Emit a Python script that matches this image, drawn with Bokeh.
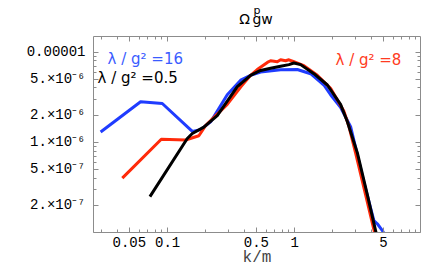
from bokeh.plotting import figure
from bokeh.models import Range1d, FixedTicker, LogAxis, Label
from bokeh.embed import file_html
from bokeh.resources import INLINE

# lambda/g^2 = 16 (blue)
k_16 = [0.0297, 0.0613, 0.0908, 0.1565, 0.182, 0.218, 0.295, 0.376, 0.450, 0.540,
        0.776, 1.05, 1.337, 1.70, 1.92, 2.30, 2.76, 3.51, 4.21, 4.48, 4.91, 5.21]
omega_16 = [1.30e-6, 2.81e-6, 2.69e-6, 1.32e-6, 1.38e-6, 1.68e-6, 3.36e-6, 4.88e-6, 5.52e-6, 5.99e-6,
            6.35e-6, 6.40e-6, 5.75e-6, 4.31e-6, 3.36e-6, 2.44e-6, 1.49e-6, 3.62e-7, 1.35e-7, 1.25e-7, 1.05e-7, 9.0e-8]

# lambda/g^2 = 8 (red)
k_8 = [0.0440, 0.0892, 0.1386, 0.1763, 0.199, 0.295, 0.376, 0.450, 0.508, 0.610, 0.647,
       0.731, 0.776, 0.849, 0.902, 0.987, 1.184, 1.509, 1.92, 2.44, 2.68, 3.02, 3.62, 4.26, 4.42]
omega_8 = [4.00e-7, 1.08e-6, 1.06e-6, 1.18e-6, 1.53e-6, 2.63e-6, 4.1e-6, 5.52e-6, 6.40e-6, 7.67e-6, 8.0e-6,
           7.8e-6, 8.2e-6, 8.0e-6, 8.2e-6, 7.8e-6, 7.07e-6, 5.52e-6, 3.97e-6, 2.22e-6, 1.49e-6, 7.62e-7, 2.63e-7, 1.0e-7, 8.2e-8]

# lambda/g^2 = 0.5 (black)
k_05 = [0.0726, 0.1429, 0.1565, 0.193, 0.246, 0.354, 0.450, 0.540, 0.647, 0.776, 0.902,
        0.987, 1.115, 1.419, 1.81, 2.30, 2.60, 3.12, 3.74, 4.34, 4.50]
omega_05 = [2.50e-7, 1.10e-6, 1.25e-6, 1.47e-6, 1.97e-6, 4.13e-6, 5.52e-6, 6.25e-6, 6.61e-6, 6.95e-6, 7.25e-6,
            7.56e-6, 7.25e-6, 5.75e-6, 4.31e-6, 2.63e-6, 1.70e-6, 7.62e-7, 2.61e-7, 1.05e-7, 8.5e-8]

x_ticks = [0.05, 0.1, 0.5, 1, 5]
x_tick_labels = ["0.05", "0.1", "0.5", "1", "5"]
x_minor = [0.03, 0.04, 0.06, 0.07, 0.08, 0.09, 0.2, 0.3, 0.4, 0.6, 0.7, 0.8, 0.9,
           2, 3, 4, 6, 7, 8, 9]
y_ticks = [2e-7, 5e-7, 1e-6, 2e-6, 5e-6, 1e-5]
y_tick_labels = ["2.×10⁻⁷", "5.×10⁻⁷", "1.×10⁻⁶", "2.×10⁻⁶", "5.×10⁻⁶", "0.00001"]
y_minor = [1e-7, 3e-7, 4e-7, 6e-7, 7e-7, 8e-7, 9e-7,
           3e-6, 4e-6, 6e-6, 7e-6, 8e-6, 9e-6]

# title pieces: Omega with superscript p and subscript gw
title_main = "Ω"
title_sub = "gw"
title_sup = "p"

BLUE = "#1f3cff"
RED = "#ff2a0a"
AX = "#8c8c8c"
MONO = "Liberation Mono"
LAB = "DejaVu Sans"

p = figure(width=430, height=270, x_axis_type="log", y_axis_type="log",
           x_range=Range1d(0.0261, 9.8), y_range=Range1d(1e-7, 1.486e-5),
           output_backend="svg", toolbar_location=None,
           min_border_left=93, min_border_right=10, min_border_top=30, min_border_bottom=38)
p.outline_line_color = None
p.xgrid.visible = False
p.ygrid.visible = False
p.background_fill_color = "white"
p.border_fill_color = "white"

def style(ax, ticks, minor, labels, show):
    ax.ticker = FixedTicker(ticks=ticks, minor_ticks=minor)
    ax.axis_line_color = AX
    ax.major_tick_line_color = AX
    ax.minor_tick_line_color = AX
    ax.major_tick_in = 5
    ax.major_tick_out = 0
    ax.minor_tick_in = 3
    ax.minor_tick_out = 0
    if show:
        ax.major_label_overrides = {t: l for t, l in zip(ticks, labels)}
        ax.major_label_text_font = MONO
        ax.major_label_text_font_size = "14px"
        ax.major_label_text_color = "black"
    else:
        ax.major_label_overrides = {t: "" for t in ticks}
        ax.major_label_text_font_size = "0px"
        ax.major_label_standoff = 0

xb = p.below[0]
style(xb, x_ticks, x_minor, x_tick_labels, True)
xb.major_label_standoff = 4
xb.axis_label = "k/m"
xb.axis_label_text_font = MONO
xb.axis_label_text_font_size = "16px"
xb.axis_label_text_font_style = "normal"
xb.axis_label_standoff = -1
yl = p.left[0]
style(yl, y_ticks, y_minor, y_tick_labels, True)
yl.major_label_standoff = 8

xt = LogAxis()
style(xt, x_ticks, x_minor, x_tick_labels, False)
p.add_layout(xt, "above")
yr = LogAxis()
style(yr, y_ticks, y_minor, y_tick_labels, False)
p.add_layout(yr, "right")

# title drawn as a bare axis above the frame (labels outside the frame stay visible)
k_title_main = 0.404
k_title_sub = 0.560
tt = LogAxis(ticker=FixedTicker(ticks=[k_title_main, k_title_sub], minor_ticks=[]))
tt.major_label_overrides = {k_title_main: title_main, k_title_sub: title_sub}
tt.axis_line_color = None
tt.major_tick_line_color = None
tt.minor_tick_line_color = None
tt.major_tick_in = 0
tt.major_tick_out = 0
tt.minor_tick_in = 0
tt.minor_tick_out = 0
tt.major_label_standoff = 10
tt.major_label_text_font = LAB
tt.major_label_text_font_size = "14px"
tt.major_label_text_color = "black"
tt.axis_label = title_sup
tt.axis_label_text_font = LAB
tt.axis_label_text_font_size = "11px"
tt.axis_label_text_font_style = "normal"
tt.axis_label_text_color = "black"
tt.axis_label_standoff = -9
p.add_layout(tt, "above")

p.line(k_16, omega_16, line_color=BLUE, line_width=3, line_join="round")
p.line(k_8, omega_8, line_color=RED, line_width=3, line_join="round")
p.line(k_05, omega_05, line_color="black", line_width=3, line_join="round")

p.add_layout(Label(x=0.0337, y=6.57e-6, text="λ / g² =16", text_color="#3a5cff",
                   text_font=LAB, text_font_size="15px"))
p.add_layout(Label(x=0.0281, y=4.10e-6, text="λ / g² =0.5", text_color="black",
                   text_font=LAB, text_font_size="15px"))
p.add_layout(Label(x=2.10, y=6.41e-6, text="λ / g² =8", text_color="#ff3b22",
                   text_font=LAB, text_font_size="15px"))

open("out.html", "w").write(file_html(p, INLINE))
